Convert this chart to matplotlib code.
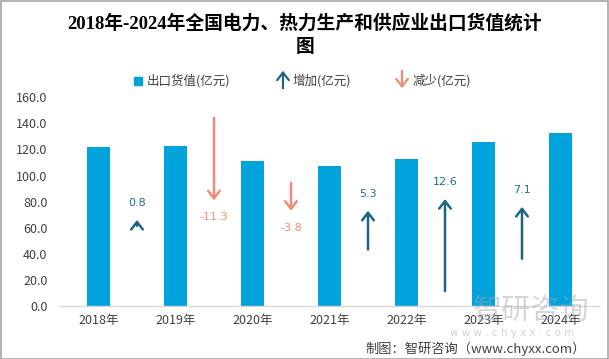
import matplotlib
matplotlib.use("Agg")
import matplotlib.pyplot as plt
from matplotlib.patches import FancyArrowPatch, Rectangle
import numpy as np

plt.rcParams['font.family'] = ['Noto Sans CJK SC', 'DejaVu Sans']

# ---- data ----
years = ["2018年", "2019年", "2020年", "2021年", "2022年", "2023年", "2024年"]
export_value = [121.9, 122.7, 111.4, 107.6, 112.9, 125.5, 132.6]
change = [0.8, -11.3, -3.8, 5.3, 12.6, 7.1]
change_labels = ["0.8", "-11.3", "-3.8", "5.3", "12.6", "7.1"]
y_ticks = [0, 20, 40, 60, 80, 100, 120, 140, 160]

# ---- layout (not data) ----
arrow_tip = [66, 81, 73, 73, 82, 76]
arrow_scale = 5.6
label_offset = 13

BAR = "#00A3DB"
UP = "#1D6580"
DOWN = "#EE8C76"
UP_TXT = "#1F6E8E"

W, H = 609, 359
fig = plt.figure(figsize=(W / 100, H / 100), dpi=100)
ax = fig.add_axes([60 / W, 1 - 306 / H, 539 / W, (306 - 97.3) / H])

x = np.arange(len(years))
ax.bar(x, export_value, width=0.31, color=BAR, zorder=2)

for i, (c, lab) in enumerate(zip(change, change_labels)):
    xm = i + 0.5
    tip = arrow_tip[i]
    start = tip - arrow_scale * c
    col = UP if c > 0 else DOWN
    ax.annotate("", xy=(xm, tip), xytext=(xm, start),
                arrowprops=dict(arrowstyle="->,head_length=0.45,head_width=0.35",
                                color=col, lw=1.8, shrinkA=0, shrinkB=0,
                                mutation_scale=12))
    if c > 0:
        ax.text(xm, tip + label_offset, lab, ha="center", va="center",
                fontsize=8, color=UP_TXT, family=['DejaVu Sans'])
    else:
        ax.text(xm, tip - label_offset, lab, ha="center", va="center",
                fontsize=8, color=DOWN, family=['DejaVu Sans'])

ax.set_xlim(-0.5, len(years) - 0.5)
ax.set_ylim(0, 160)
ax.set_xticks(x)
ax.set_xticklabels(years, fontsize=9, color="#404040")
ax.set_yticks(y_ticks)
ax.set_yticklabels([f"{v:.1f}" for v in y_ticks], fontsize=9, color="#404040")
ax.tick_params(axis="both", length=0)
ax.tick_params(axis="y", pad=9)
ax.tick_params(axis="x", pad=6)
for s in ["top", "right", "left"]:
    ax.spines[s].set_visible(False)
ax.spines["bottom"].set_color("#D9D9D9")
ax.spines["bottom"].set_linewidth(1)

# ---- title ----
fig.text(305 / W, 1 - 23 / H, "2018年-2024年全国电力、热力生产和供应业出口货值统计",
         ha="center", va="center", fontsize=13.5, fontweight="bold",
         family=['Liberation Serif', 'Noto Sans CJK SC'])
fig.text(305 / W, 1 - 47 / H, "图", ha="center", va="center", fontsize=13.5,
         fontweight="bold", family=['Liberation Serif', 'Noto Sans CJK SC'])

# ---- legend ----
fig.add_artist(Rectangle((134 / W, 1 - 85 / H), 8 / W, 8 / H,
                         transform=fig.transFigure, color=BAR))
fig.text(147 / W, 1 - 81 / H, "出口货值(亿元)", ha="left", va="center",
         fontsize=9, color="#404040")
fig.add_artist(FancyArrowPatch((283 / W, 1 - 91 / H), (283 / W, 1 - 68 / H),
                               transform=fig.transFigure,
                               arrowstyle="->,head_length=0.45,head_width=0.35",
                               color=UP, lw=1.6, mutation_scale=12))
fig.text(293 / W, 1 - 81 / H, "增加(亿元)", ha="left", va="center",
         fontsize=9, color="#404040")
fig.add_artist(FancyArrowPatch((402 / W, 1 - 68 / H), (402 / W, 1 - 91 / H),
                               transform=fig.transFigure,
                               arrowstyle="->,head_length=0.45,head_width=0.35",
                               color=DOWN, lw=1.6, mutation_scale=12))
fig.text(413 / W, 1 - 81 / H, "减少(亿元)", ha="left", va="center",
         fontsize=9, color="#404040")

# ---- watermark ----
fig.text(531 / W, 1 - 311 / H, "智研咨询", ha="center", va="center",
         fontsize=21, color="#9AA5B5", alpha=0.45)
fig.text(512 / W, 1 - 333 / H, "w w w . c h y x x . c o m", ha="center",
         va="center", fontsize=7.5, color="#9AA5B5", alpha=0.5,
         family=['DejaVu Sans'])

# ---- source ----
fig.text(586 / W, 1 - 349 / H, "制图：智研咨询（www.chyxx.com）", ha="right",
         va="center", fontsize=9.5, color="#404040")

# ---- border ----
fig.add_artist(Rectangle((0.5 / W, 0.5 / H), 1 - 1.5 / W, 1 - 1.5 / H,
                         transform=fig.transFigure, fill=False,
                         edgecolor="#A6A6A6", lw=1.2))

fig.savefig("out.png", dpi=100)
